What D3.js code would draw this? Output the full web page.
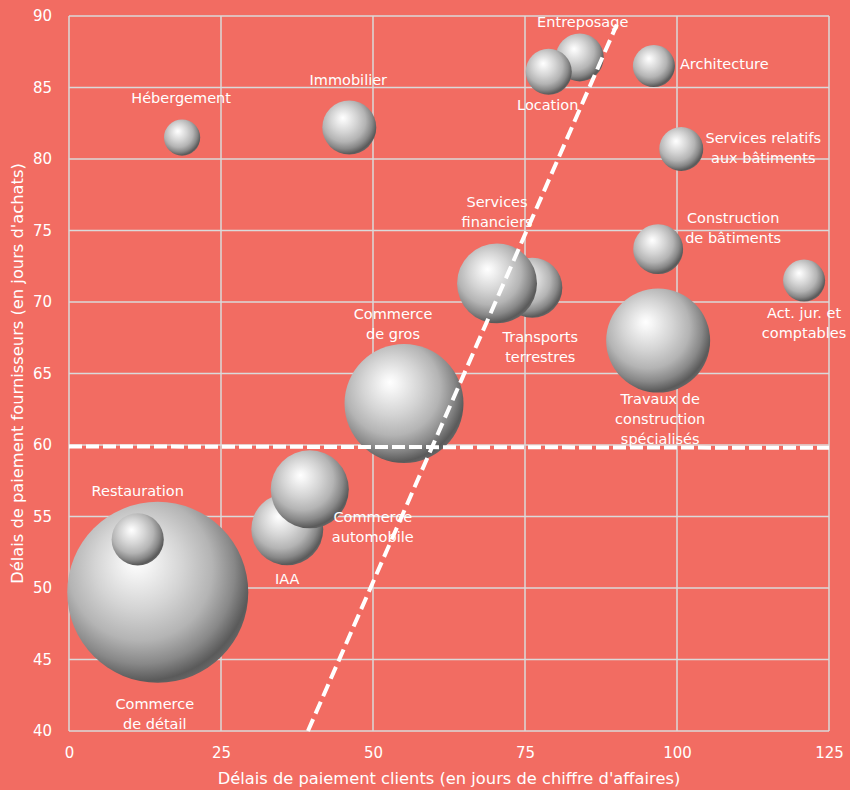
<!DOCTYPE html>
<meta charset="utf-8">
<style>
    body {
        margin: 0;
        background: #f26c62;
        font-family: "DejaVu Sans", sans-serif;
    }

    .grid line {
        stroke: #dadada;
        stroke-width: 1.5;
    }

    .lbl {
        fill: #fff;
        font-size: 14.5px;
    }

    .tick text {
        fill: #fff;
        font-size: 15px;
    }
</style>

<body>
    <script src="https://d3js.org/d3.v7.min.js"></script>
    <script>

        // secteurs, dans l'ordre de dessin (les derniers au-dessus)
        var secteurs = ["Commerce\nde détail", "Restauration", "IAA", "Commerce\nautomobile", "Commerce\nde gros",
            "Transports\nterrestres", "Services\nfinanciers", "Travaux de\nconstruction\nspécialisés",
            "Construction\nde bâtiments", "Act. jur. et\ncomptables", "Services relatifs\naux bâtiments",
            "Architecture", "Entreposage", "Location", "Hébergement", "Immobilier"];
        var delaisClients = [14.6, 11.3, 35.9, 39.6, 55.1, 76.2, 70.4, 96.9, 96.9, 120.9, 100.7, 96.2, 84.0, 78.9, 18.6, 46.1];
        var delaisFournisseurs = [49.7, 53.4, 54.1, 56.9, 62.9, 71.0, 71.3, 67.3, 73.7, 71.5, 80.7, 86.5, 87.1, 86.1, 81.5, 82.2];
        var poids = [100, 8.3, 15.8, 18.6, 43.2, 11.0, 19.5, 33, 7.6, 5.4, 5.9, 5.4, 7.0, 6.5, 4.0, 8.9];

        var xTicks = [0, 25, 50, 75, 100, 125];
        var yTicks = [40, 45, 50, 55, 60, 65, 70, 75, 80, 85, 90];

        // droites en pointillés
        var horizX = [0, 125], horizY = [59.9, 59.8];
        var diagX = [39.3, 90.1], diagY = [40, 89.4];

        var width = 850, height = 790;
        var margin = { top: 16, right: 20, bottom: 59, left: 69 };

        // placement des étiquettes (décalage en px depuis le centre de la bulle)
        var place = {
            "Hébergement": [-1, -40], "Immobilier": [-1, -48], "Entreposage": [3, -36],
            "Location": [-1, 33], "Architecture": [26, -2, "start"], "Services relatifs\naux bâtiments": [82, -11],
            "Services\nfinanciers": [0, -81], "Construction\nde bâtiments": [75, -31],
            "Act. jur. et\ncomptables": [0, 32], "Commerce\nde gros": [-11, -90],
            "Transports\nterrestres": [8, 49], "Travaux de\nconstruction\nspécialisés": [2, 58],
            "Restauration": [0, -48], "Commerce\nautomobile": [63, 28], "IAA": [0, 50],
            "Commerce\nde détail": [-3, 112]
        };

        var svg = d3.select("body").append("svg")
            .attr("width", width)
            .attr("height", height);

        var x = d3.scaleLinear().domain([0, 125]).range([margin.left, width - margin.right - 1]);
        var y = d3.scaleLinear().domain([40, 90]).range([height - margin.bottom, margin.top]);
        var r = d3.scaleSqrt().domain([0, 100]).range([0, 90.5]);

        var defs = svg.append("defs");
        var grad = defs.append("radialGradient")
            .attr("id", "sphere")
            .attr("cx", "42%").attr("cy", "40%").attr("r", "64%")
            .attr("fx", "38%").attr("fy", "32%");
        [[0, "#ffffff"], [0.1, "#f5f5f5"], [0.38, "#d4d4d4"], [0.62, "#b4b4b4"], [0.8, "#888888"], [0.93, "#5a5a5a"], [1, "#6a6a6a"]]
            .forEach(function (s) {
                grad.append("stop").attr("offset", s[0]).attr("stop-color", s[1]);
            });

        // grille
        svg.append("g").attr("class", "grid")
            .selectAll("line").data(xTicks).enter().append("line")
            .attr("x1", d => x(d)).attr("x2", d => x(d))
            .attr("y1", y(40)).attr("y2", y(90));
        svg.append("g").attr("class", "grid")
            .selectAll("line").data(yTicks).enter().append("line")
            .attr("x1", x(0)).attr("x2", x(125))
            .attr("y1", d => y(d)).attr("y2", d => y(d));

        // axes (sans traits)
        var gx = svg.append("g")
            .attr("transform", "translate(0," + y(40) + ")")
            .call(d3.axisBottom(x).tickValues(xTicks).tickSize(0).tickPadding(16));
        var gy = svg.append("g")
            .attr("transform", "translate(" + x(0) + ",0)")
            .call(d3.axisLeft(y).tickValues(yTicks).tickSize(0).tickPadding(17));
        gx.select(".domain").remove();
        gy.select(".domain").remove();
        svg.selectAll(".tick text").attr("font-family", "DejaVu Sans");

        // bulles
        var data = secteurs.map(function (s, i) {
            return { nom: s, cx: delaisClients[i], cy: delaisFournisseurs[i], p: poids[i] };
        });

        svg.append("g").selectAll("circle")
            .data(data).enter().append("circle")
            .attr("cx", d => x(d.cx))
            .attr("cy", d => y(d.cy))
            .attr("r", d => r(d.p))
            .attr("fill", "url(#sphere)");

        // droites en pointillés
        var line = d3.line().x(d => x(d[0])).y(d => y(d[1]));
        svg.append("path")
            .attr("d", line(d3.zip(horizX, horizY)))
            .attr("fill", "none").attr("stroke", "#fff")
            .attr("stroke-width", 4).attr("stroke-dasharray", "13,4");
        svg.append("path")
            .attr("d", line(d3.zip(diagX, diagY)))
            .attr("fill", "none").attr("stroke", "#fff")
            .attr("stroke-width", 4).attr("stroke-dasharray", "13,6");

        // étiquettes
        var labels = svg.append("g").selectAll("text")
            .data(data).enter().append("text")
            .attr("class", "lbl")
            .attr("text-anchor", d => place[d.nom][2] || "middle")
            .attr("transform", function (d) {
                var p = place[d.nom];
                return "translate(" + (x(d.cx) + p[0]) + "," + (y(d.cy) + p[1]) + ")";
            });
        labels.selectAll("tspan")
            .data(d => d.nom.split("\n"))
            .enter().append("tspan")
            .attr("x", 0)
            .attr("y", (d, i) => i * 20)
            .attr("dy", "0.35em")
            .text(d => d);

        // titres des axes
        svg.append("text")
            .attr("x", (x(0) + x(125)) / 2)
            .attr("y", 778)
            .attr("dy", "0.35em")
            .attr("text-anchor", "middle")
            .attr("fill", "#fff")
            .attr("font-size", "16.3px")
            .text("Délais de paiement clients (en jours de chiffre d'affaires)");

        svg.append("text")
            .attr("transform", "translate(17," + (y(40) + y(90)) / 2 + ") rotate(-90)")
            .attr("dy", "0.35em")
            .attr("text-anchor", "middle")
            .attr("fill", "#fff")
            .attr("font-size", "16.3px")
            .text("Délais de paiement fournisseurs (en jours d'achats)");

    </script>
</body>
